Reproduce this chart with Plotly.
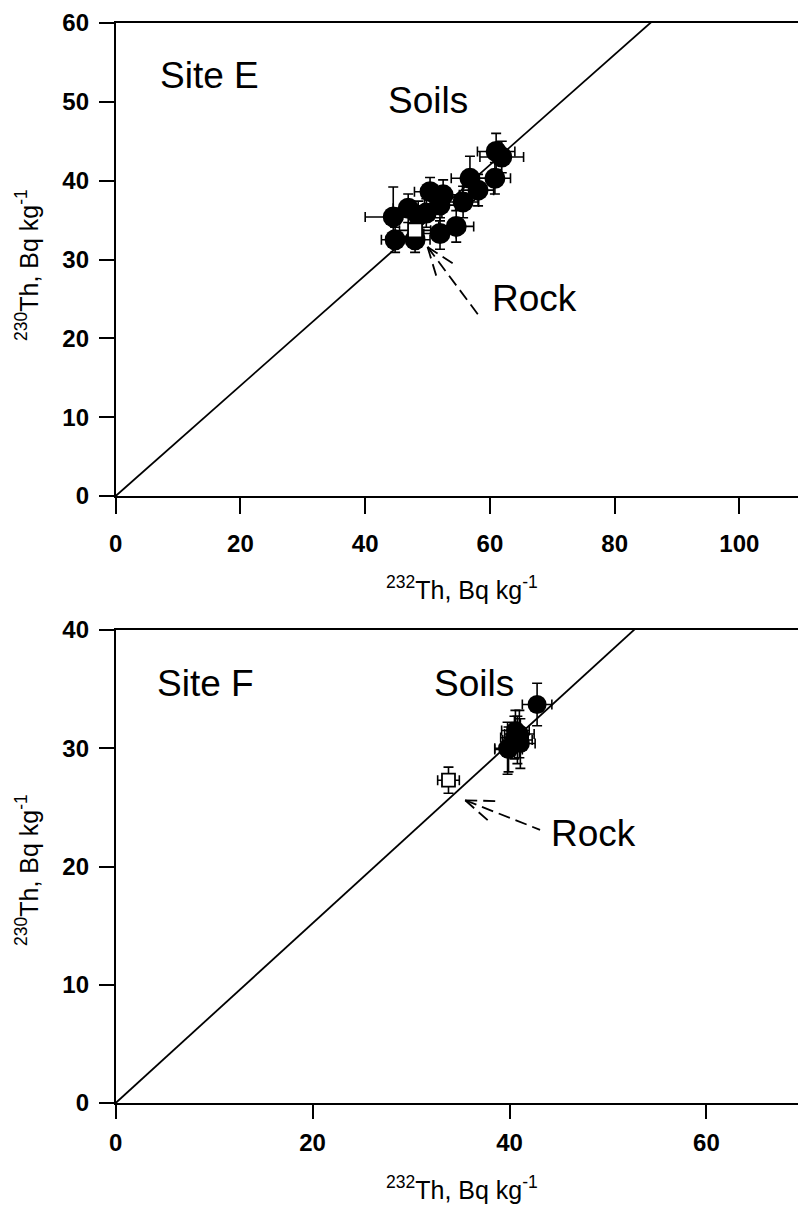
import numpy as np
import plotly.graph_objects as go

# ---- Site E (upper panel) ----
soil_e_x = [61.0, 61.9, 60.8, 56.8, 58.1, 55.7, 54.6, 52.0, 50.4, 52.5, 52.0, 49.8, 46.9, 44.5, 44.8, 48.0, 48.5]
soil_e_y = [43.7, 43.0, 40.3, 40.3, 38.8, 37.3, 34.2, 33.3, 38.6, 38.2, 36.9, 35.9, 36.5, 35.4, 32.5, 32.5, 35.6]
soil_e_xerr = [3.0, 3.5, 2.5, 3.0, 2.5, 2.5, 2.8, 2.6, 2.5, 2.6, 2.5, 2.5, 2.4, 4.5, 2.2, 2.4, 2.5]
soil_e_yerr = [2.3, 2.0, 2.0, 2.8, 2.0, 2.0, 2.0, 2.0, 1.8, 1.9, 2.0, 1.8, 1.8, 3.8, 1.6, 1.6, 1.8]
rock_e_x = [48.0]
rock_e_y = [33.7]
rock_e_xerr = [2.5]
rock_e_yerr = [1.7]
ratio_e = 0.70  # 230Th/232Th reference line

# ---- Site F (lower panel) ----
soil_f_x = [42.8, 40.6, 40.8, 39.8, 39.9, 41.1, 40.5, 41.0]
soil_f_y = [33.7, 31.5, 30.7, 30.0, 29.9, 30.4, 30.9, 31.2]
soil_f_xerr = [1.5, 1.4, 1.5, 1.3, 1.4, 1.5, 1.4, 1.5]
soil_f_yerr = [1.8, 1.7, 2.0, 2.2, 1.9, 2.1, 1.8, 2.0]
rock_f_x = [33.8]
rock_f_y = [27.3]
rock_f_xerr = [1.1]
rock_f_yerr = [1.1]
ratio_f = 0.76

# axis ranges and ticks
xr_e, yr_e = [0, 109.4], [0, 60]
xr_f, yr_f = [0, 69.3], [0, 40]
xticks_e = [0, 20, 40, 60, 80, 100]
yticks_e = [0, 10, 20, 30, 40, 50, 60]
xticks_f = [0, 20, 40, 60]
yticks_f = [0, 10, 20, 30, 40]

W, H = 798, 1205
FONT = "Liberation Sans, Arial, sans-serif"
dom_x = [0.145, 1.0]
dom_y_e = [1 - 496 / H, 1 - 23 / H]
dom_y_f = [1 - 1103 / H, 1 - 630 / H]

fig = go.Figure()


def err(vals):
    return dict(type="data", array=vals, visible=True, color="black",
                thickness=1.6, width=5)


def add_panel(xa, ya, sx, sy, sxe, sye, rx, ry, rxe, rye, ratio, xmax,
              soil_size, rock_size):
    lx = np.array([0.0, xmax])
    fig.add_trace(go.Scatter(x=lx, y=ratio * lx, mode="lines",
                             line=dict(color="black", width=1.8),
                             xaxis=xa, yaxis=ya, hoverinfo="skip"))
    fig.add_trace(go.Scatter(x=sx, y=sy, mode="markers",
                             error_x=err(sxe), error_y=err(sye),
                             marker=dict(symbol="circle", size=soil_size,
                                         color="black"),
                             xaxis=xa, yaxis=ya, name="Soils"))
    fig.add_trace(go.Scatter(x=rx, y=ry, mode="markers",
                             error_x=err(rxe), error_y=err(rye),
                             marker=dict(symbol="square", size=rock_size,
                                         color="white",
                                         line=dict(color="black", width=1.8)),
                             xaxis=xa, yaxis=ya, name="Rock"))


add_panel("x", "y", soil_e_x, soil_e_y, soil_e_xerr, soil_e_yerr,
          rock_e_x, rock_e_y, rock_e_xerr, rock_e_yerr, ratio_e, xr_e[1], 21, 14)
add_panel("x2", "y2", soil_f_x, soil_f_y, soil_f_xerr, soil_f_yerr,
          rock_f_x, rock_f_y, rock_f_xerr, rock_f_yerr, ratio_f, xr_f[1], 19, 13)

axis_common = dict(showline=True, linecolor="black", linewidth=1.8,
                   ticks="outside", tickwidth=1.6,
                   tickcolor="black", showgrid=False, zeroline=False,
                   automargin=False,
                   tickfont=dict(family=FONT, size=24, color="black",
                                 weight="bold"))

fig.update_layout(
    width=W, height=H,
    margin=dict(l=0, r=0, t=0, b=0, pad=0, autoexpand=False),
    paper_bgcolor="white", plot_bgcolor="white",
    showlegend=False,
    font=dict(family=FONT, color="black"),
    xaxis=dict(domain=dom_x, range=xr_e, tickvals=xticks_e, anchor="y",
               mirror=True, ticklen=16, ticklabelstandoff=9, **axis_common),
    yaxis=dict(domain=dom_y_e, range=yr_e, tickvals=yticks_e, anchor="x",
               ticklen=15, ticklabelstandoff=5, **axis_common),
    xaxis2=dict(domain=dom_x, range=xr_f, tickvals=xticks_f, anchor="y2",
                mirror=True, ticklen=14, ticklabelstandoff=3, **axis_common),
    yaxis2=dict(domain=dom_y_f, range=yr_f, tickvals=yticks_f, anchor="x2",
                ticklen=15, ticklabelstandoff=5, **axis_common),
)

BIG = dict(family=FONT, size=37, color="black")
TITLE = dict(family=FONT, size=25, color="black")
ytitle = "<sup>230</sup>Th, Bq kg<sup>-1</sup>"
xtitle = "<sup>232</sup>Th, Bq kg<sup>-1</sup>"


def label(text, x, y, xref, yref, font=BIG, angle=0):
    fig.add_annotation(text=text, x=x, y=y, xref=xref, yref=yref,
                       showarrow=False, font=font, textangle=angle,
                       xanchor="center", yanchor="middle")


# panel texts
label("Site E", 15.1, 53.4, "x", "y")
label("Soils", 50.0, 50.2, "x", "y")
label("Rock", 67.2, 25.1, "x", "y")
label("Site F", 9.1, 35.5, "x2", "y2")
label("Soils", 36.4, 35.5, "x2", "y2")
label("Rock", 48.5, 22.8, "x2", "y2")

# axis titles
label(ytitle, 27 / W, 1 - 265 / H, "paper", "paper", TITLE, -90)
label(xtitle, 462 / W, 1 - 588 / H, "paper", "paper", TITLE)
label(ytitle, 27 / W, 1 - 870 / H, "paper", "paper", TITLE, -90)
label(xtitle, 462 / W, 1 - 1188 / H, "paper", "paper", TITLE)


def dashed_arrow(xref, yref, tip, tail, xr, yr, dom_y):
    """Dashed pointer from the label toward the rock sample, open head."""
    sx = (dom_x[1] - dom_x[0]) * W / (xr[1] - xr[0])
    sy = (dom_y[1] - dom_y[0]) * H / (yr[1] - yr[0])
    tx, ty = tip
    dx, dy = (tail[0] - tx) * sx, (tail[1] - ty) * sy
    n = np.hypot(dx, dy)
    ux, uy = dx / n, dy / n
    style = dict(color="black", width=1.8, dash="12px,6px")
    fig.add_shape(type="line", xref=xref, yref=yref, x0=tx, y0=ty,
                  x1=tail[0], y1=tail[1], line=style)
    for ang in (np.radians(20), -np.radians(20)):
        hx = ux * np.cos(ang) - uy * np.sin(ang)
        hy = ux * np.sin(ang) + uy * np.cos(ang)
        fig.add_shape(type="line", xref=xref, yref=yref, x0=tx, y0=ty,
                      x1=tx + hx * 34 / sx, y1=ty + hy * 34 / sy, line=style)


dashed_arrow("x", "y", (50.0, 31.6), (58.4, 22.7), xr_e, yr_e, dom_y_e)
dashed_arrow("x2", "y2", (35.5, 25.6), (43.1, 23.1), xr_f, yr_f, dom_y_f)

fig.write_html("out.html")
